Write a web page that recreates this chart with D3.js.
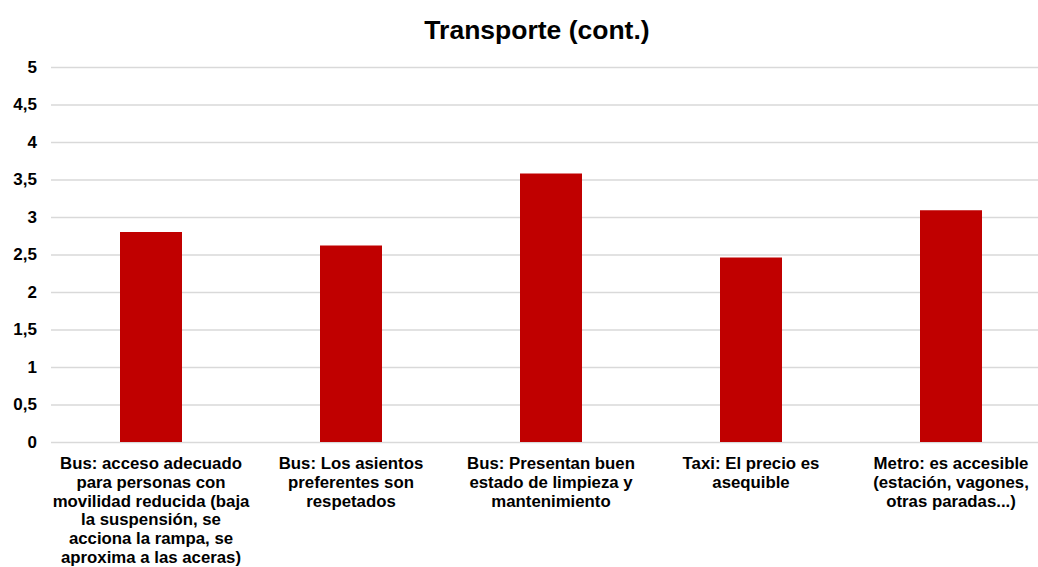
<!DOCTYPE html>
<html>
<head>
<meta charset="utf-8">
<script src="https://cdn.jsdelivr.net/npm/d3@7"></script>
<style>
  body { margin: 0; background: #fff; }
  text { font-family: "Liberation Sans", Arial, sans-serif; font-weight: bold; fill: #000; }
</style>
</head>
<body>
<div id="chart"></div>
<script>
let width = 1038;
let height = 567;
let margin = {top: 67, right: -13, bottom: 125, left: 51};

// Data
let categories = [
    ["Bus: acceso adecuado", "para personas con", "movilidad reducida (baja", "la suspensión, se", "acciona la rampa, se", "aproxima a las aceras)"],
    ["Bus: Los asientos", "preferentes son", "respetados"],
    ["Bus: Presentan buen", "estado de limpieza y", "mantenimiento"],
    ["Taxi: El precio es", "asequible"],
    ["Metro: es accesible", "(estación, vagones,", "otras paradas...)"]
];
let values = [2.80, 2.62, 3.58, 2.46, 3.09];
let yTicks = [0, 0.5, 1, 1.5, 2, 2.5, 3, 3.5, 4, 4.5, 5];

let barColor = '#c00000';
let gridColor = '#d9d9d9';

let plotW = width - margin.left - margin.right;
let plotH = height - margin.top - margin.bottom;

let svg = d3.select("#chart")
    .append("svg")
    .attr("width", width)
    .attr("height", height)
    .append("g")
    .attr("transform", "translate(" + margin.left + "," + margin.top + ")");

let xScale = d3.scaleBand()
    .domain(d3.range(categories.length))
    .range([0, plotW])
    .paddingInner(0.69)
    .paddingOuter(0.345);

let yScale = d3.scaleLinear()
    .domain([0, 5])
    .range([plotH, 0]);

// title
svg.append("text")
    .attr("x", 537 - margin.left)
    .attr("y", 39 - margin.top)
    .attr("text-anchor", "middle")
    .style("font-size", "26.5px")
    .text("Transporte (cont.)");

// gridlines + y labels
let yAxis = svg.append("g")
    .call(d3.axisLeft(yScale)
        .tickValues(yTicks)
        .tickSize(-plotW)
        .tickPadding(14)
        .tickFormat(d => String(d).replace(".", ",")));
yAxis.select(".domain").remove();
yAxis.selectAll(".tick line").attr("stroke", gridColor).attr("stroke-width", 1.3);
yAxis.selectAll(".tick text")
    .style("font-size", "17px")
    .style("font-family", '"Liberation Sans", Arial, sans-serif')
    .style("font-weight", "bold")
    .attr("fill", "#000");

// bars
svg.selectAll(".bar")
    .data(values)
    .enter()
    .append("rect")
    .attr("class", "bar")
    .attr("x", (d, i) => xScale(i))
    .attr("width", xScale.bandwidth())
    .attr("y", d => yScale(d))
    .attr("height", d => plotH - yScale(d))
    .attr("fill", barColor);

// x labels
let labels = svg.selectAll(".xlabel")
    .data(categories)
    .enter()
    .append("text")
    .attr("class", "xlabel")
    .attr("text-anchor", "middle")
    .style("font-size", "16.8px")
    .attr("transform", (d, i) => "translate(" + (xScale(i) + xScale.bandwidth() / 2) + "," + (plotH + 27) + ")");

labels.selectAll("tspan")
    .data(d => d)
    .enter()
    .append("tspan")
    .attr("x", 0)
    .attr("y", (d, i) => i * 18.8)
    .text(d => d);
</script>
</body>
</html>
